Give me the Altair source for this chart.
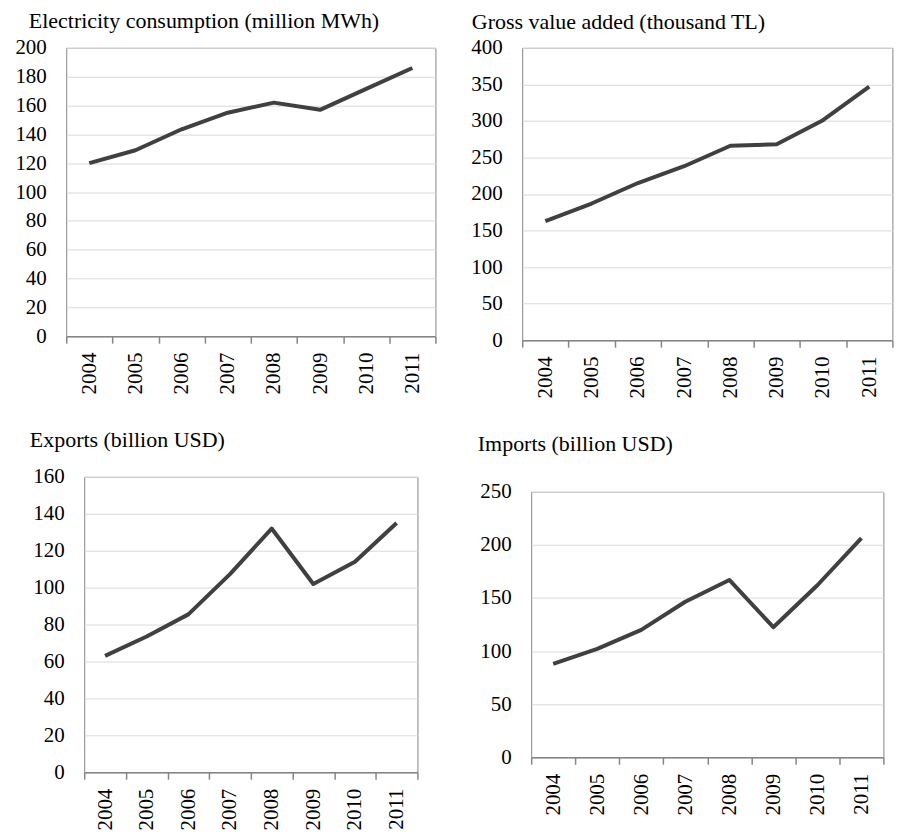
import altair as alt
import pandas as pd

years = ["2004", "2005", "2006", "2007", "2008", "2009", "2010", "2011"]
electricity = [120, 129, 143.5, 155, 162, 157, 171.5, 186]
gross_value_added = [163, 187, 215, 238, 266, 268, 301, 347]
exports = [63, 73.5, 85.5, 107.3, 132, 102, 114, 135]
imports = [88, 102, 120, 146.5, 167, 122.5, 162, 206.5]

titles = [
    "Electricity consumption (million MWh)",
    "Gross value added (thousand TL)",
    "Exports (billion USD)",
    "Imports (billion USD)",
]

FONT = "Liberation Serif"
GRID = "#d9d9d9"
AXIS = "#868686"
LINE = "#404040"


def panel(values, title, ymax, step, w, h, tx, ty):
    df = pd.DataFrame({"year": years, "value": values})
    return (
        alt.Chart(df)
        .mark_line(color=LINE, strokeWidth=4, strokeJoin="round")
        .encode(
            x=alt.X(
                "year:N",
                bandPosition=0.5,
                scale=alt.Scale(type="band", paddingInner=0, paddingOuter=0),
                axis=alt.Axis(
                    title=None, labelAngle=-90, tickBand="extent",
                    domainColor=AXIS, domainWidth=1.5, tickColor=AXIS,
                    tickWidth=1.5, tickSize=7, labelPadding=9, grid=False,
                    labelFont=FONT, labelFontSize=21, labelColor="#000",
                ),
            ),
            y=alt.Y(
                "value:Q",
                scale=alt.Scale(domain=[0, ymax], nice=False, zero=True),
                axis=alt.Axis(
                    title=title, titleAngle=0, titleX=tx, titleY=ty,
                    titleAlign="left", titleBaseline="alphabetic",
                    titleFont=FONT, titleFontSize=22, titleFontWeight="normal",
                    titleColor="#000",
                    values=list(range(0, ymax + 1, step)),
                    domain=False, ticks=False, tickSize=0, labelPadding=20,
                    grid=True, gridColor=GRID, gridWidth=1,
                    labelFont=FONT, labelFontSize=21, labelColor="#000",
                ),
            ),
        )
        .properties(width=w, height=h)
    )


p1 = panel(electricity, titles[0], 200, 20, 370, 289, -38, -20)
p2 = panel(gross_value_added, titles[1], 400, 50, 371, 293, -51, -19)
p3 = panel(exports, titles[2], 160, 20, 334, 296, -55, -30)
p4 = panel(imports, titles[3], 250, 50, 353, 266, -54, -41)

left_col = alt.vconcat(p1, p3, spacing=33, center=True)
right_col = alt.vconcat(p2, p4, spacing=33, center=True)

chart = (
    alt.hconcat(left_col, right_col, spacing=33)
    .configure_view(stroke=AXIS, strokeWidth=1)
    .properties(padding={"left": 6, "top": 0, "right": 0, "bottom": 0})
)

chart.save("out.html", embed_options={"renderer": "svg", "actions": False})
